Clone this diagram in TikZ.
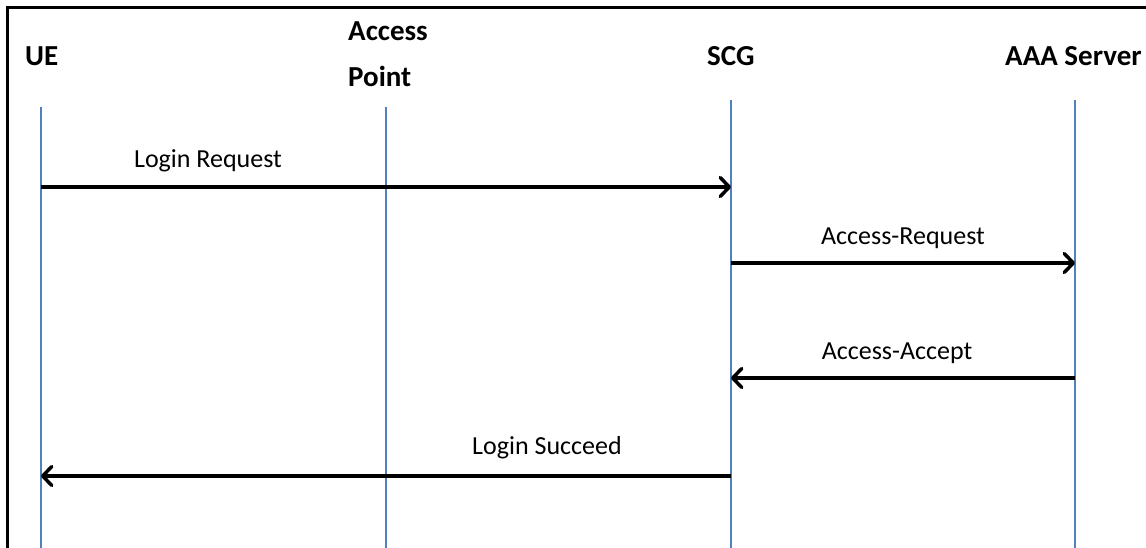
\documentclass[tikz,border=0pt]{standalone}
\usepackage{fontspec}
\setmainfont{Carlito}
\usetikzlibrary{arrows.meta}
\definecolor{lifeblue}{HTML}{4F81BD}
\tikzset{
  actor/.style={font=\fontsize{29}{34}\selectfont\bfseries, inner sep=0pt, anchor=base west},
  lifeline/.style={draw=lifeblue, line width=2.2pt},
  msg/.style={draw=black, line width=3.5pt, -{Straight Barb[length=9pt,width=19pt,line width=3.5pt,round]}},
  msglabel/.style={font=\fontsize{26}{31}\selectfont, inner sep=0pt, anchor=base}
}
\begin{document}
\begin{tikzpicture}[x=1pt,y=-1pt]
\useasboundingbox (0,0) rectangle (1146,548);
% frame
\draw[line width=3pt] (7,548) -- (7,8) -- (1146,8);
% actors
\node[actor] (ue) at (25,66) {UE};
\node[actor] (ap1) at (348,41) {Access};
\node[actor] (ap2) at (348,87) {Point};
\node[actor] (scg) at (707,66) {SCG};
\node[actor] (aaa) at (1005,66) {AAA Server};
% lifeline endpoints
\coordinate (ueT) at (41,107);  \coordinate (ueB) at (41,548);
\coordinate (apT) at (386,107); \coordinate (apB) at (386,548);
\coordinate (scgT) at (731,100); \coordinate (scgB) at (731,548);
\coordinate (aaaT) at (1075,100); \coordinate (aaaB) at (1075,548);
\draw[lifeline] (ueT) -- (ueB);
\draw[lifeline] (apT) -- (apB);
\draw[lifeline] (scgT) -- (scgB);
\draw[lifeline] (aaaT) -- (aaaB);
% messages
\coordinate (m1s) at (41,187);  \coordinate (m1e) at (731,187);
\coordinate (m2s) at (731,263); \coordinate (m2e) at (1075,263);
\coordinate (m3s) at (1075,378); \coordinate (m3e) at (731,378);
\coordinate (m4s) at (731,476); \coordinate (m4e) at (41,476);
\draw[msg] (m1s) -- (m1e);
\draw[msg] (m2s) -- (m2e);
\draw[msg] (m3s) -- (m3e);
\draw[msg] (m4s) -- (m4e);
\node[msglabel] (l1) at (208,168) {Login Request};
\node[msglabel] (l2) at (903,244) {Access-Request};
\node[msglabel] (l3) at (897,359) {Access-Accept};
\node[msglabel] (l4) at (547,454) {Login Succeed};
\end{tikzpicture}
\end{document}
